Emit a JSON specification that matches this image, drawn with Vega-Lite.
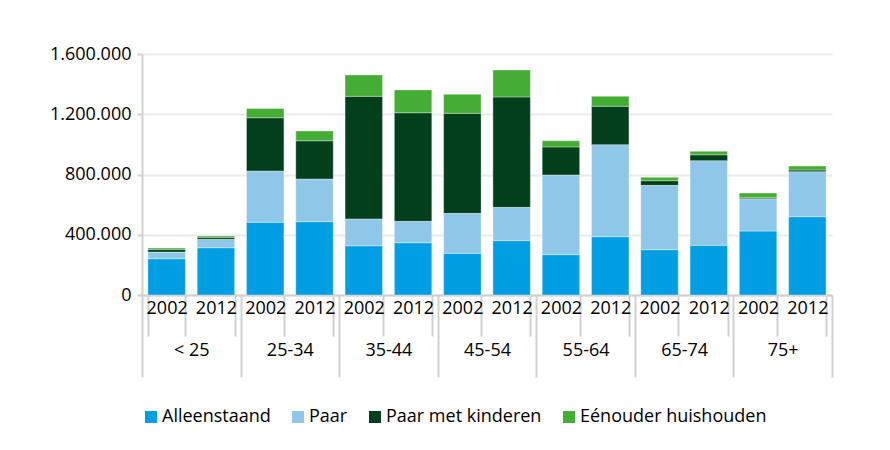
{
  "$schema": "https://vega.github.io/schema/vega-lite/v6.json",
  "width": 690,
  "height": 241,
  "padding": {"left": 49, "top": 45, "right": 10, "bottom": 5},
  "background": "white",
  "config": {
    "font": "Open Sans",
    "view": {"stroke": null},
    "axis": {"labelFont": "Open Sans", "labelFontSize": 18, "labelColor": "#000000"},
    "legend": {"labelFont": "Open Sans", "labelFontSize": 18, "labelColor": "#000000", "labelLimit": 0}
  },
  "data": {
    "values": [
      {"leeftijd": "< 25", "jaar": "2002", "type": "Alleenstaand", "aantal": 241000},
      {"leeftijd": "< 25", "jaar": "2002", "type": "Paar", "aantal": 44000},
      {"leeftijd": "< 25", "jaar": "2002", "type": "Paar met kinderen", "aantal": 18000},
      {"leeftijd": "< 25", "jaar": "2002", "type": "Eénouder huishouden", "aantal": 9000},
      {"leeftijd": "< 25", "jaar": "2012", "type": "Alleenstaand", "aantal": 314000},
      {"leeftijd": "< 25", "jaar": "2012", "type": "Paar", "aantal": 56000},
      {"leeftijd": "< 25", "jaar": "2012", "type": "Paar met kinderen", "aantal": 13000},
      {"leeftijd": "< 25", "jaar": "2012", "type": "Eénouder huishouden", "aantal": 9000},
      {"leeftijd": "25-34", "jaar": "2002", "type": "Alleenstaand", "aantal": 483000},
      {"leeftijd": "25-34", "jaar": "2002", "type": "Paar", "aantal": 340000},
      {"leeftijd": "25-34", "jaar": "2002", "type": "Paar met kinderen", "aantal": 354000},
      {"leeftijd": "25-34", "jaar": "2002", "type": "Eénouder huishouden", "aantal": 62000},
      {"leeftijd": "25-34", "jaar": "2012", "type": "Alleenstaand", "aantal": 487000},
      {"leeftijd": "25-34", "jaar": "2012", "type": "Paar", "aantal": 283000},
      {"leeftijd": "25-34", "jaar": "2012", "type": "Paar met kinderen", "aantal": 254000},
      {"leeftijd": "25-34", "jaar": "2012", "type": "Eénouder huishouden", "aantal": 65000},
      {"leeftijd": "35-44", "jaar": "2002", "type": "Alleenstaand", "aantal": 327000},
      {"leeftijd": "35-44", "jaar": "2002", "type": "Paar", "aantal": 178000},
      {"leeftijd": "35-44", "jaar": "2002", "type": "Paar met kinderen", "aantal": 814000},
      {"leeftijd": "35-44", "jaar": "2002", "type": "Eénouder huishouden", "aantal": 142000},
      {"leeftijd": "35-44", "jaar": "2012", "type": "Alleenstaand", "aantal": 347000},
      {"leeftijd": "35-44", "jaar": "2012", "type": "Paar", "aantal": 142000},
      {"leeftijd": "35-44", "jaar": "2012", "type": "Paar met kinderen", "aantal": 721000},
      {"leeftijd": "35-44", "jaar": "2012", "type": "Eénouder huishouden", "aantal": 151000},
      {"leeftijd": "45-54", "jaar": "2002", "type": "Alleenstaand", "aantal": 277000},
      {"leeftijd": "45-54", "jaar": "2002", "type": "Paar", "aantal": 265000},
      {"leeftijd": "45-54", "jaar": "2002", "type": "Paar met kinderen", "aantal": 664000},
      {"leeftijd": "45-54", "jaar": "2002", "type": "Eénouder huishouden", "aantal": 126000},
      {"leeftijd": "45-54", "jaar": "2012", "type": "Alleenstaand", "aantal": 361000},
      {"leeftijd": "45-54", "jaar": "2012", "type": "Paar", "aantal": 221000},
      {"leeftijd": "45-54", "jaar": "2012", "type": "Paar met kinderen", "aantal": 733000},
      {"leeftijd": "45-54", "jaar": "2012", "type": "Eénouder huishouden", "aantal": 179000},
      {"leeftijd": "55-64", "jaar": "2002", "type": "Alleenstaand", "aantal": 268000},
      {"leeftijd": "55-64", "jaar": "2002", "type": "Paar", "aantal": 529000},
      {"leeftijd": "55-64", "jaar": "2002", "type": "Paar met kinderen", "aantal": 186000},
      {"leeftijd": "55-64", "jaar": "2002", "type": "Eénouder huishouden", "aantal": 41000},
      {"leeftijd": "55-64", "jaar": "2012", "type": "Alleenstaand", "aantal": 387000},
      {"leeftijd": "55-64", "jaar": "2012", "type": "Paar", "aantal": 611000},
      {"leeftijd": "55-64", "jaar": "2012", "type": "Paar met kinderen", "aantal": 255000},
      {"leeftijd": "55-64", "jaar": "2012", "type": "Eénouder huishouden", "aantal": 66000},
      {"leeftijd": "65-74", "jaar": "2002", "type": "Alleenstaand", "aantal": 301000},
      {"leeftijd": "65-74", "jaar": "2002", "type": "Paar", "aantal": 427000},
      {"leeftijd": "65-74", "jaar": "2002", "type": "Paar met kinderen", "aantal": 31000},
      {"leeftijd": "65-74", "jaar": "2002", "type": "Eénouder huishouden", "aantal": 22000},
      {"leeftijd": "65-74", "jaar": "2012", "type": "Alleenstaand", "aantal": 330000},
      {"leeftijd": "65-74", "jaar": "2012", "type": "Paar", "aantal": 562000},
      {"leeftijd": "65-74", "jaar": "2012", "type": "Paar met kinderen", "aantal": 39000},
      {"leeftijd": "65-74", "jaar": "2012", "type": "Eénouder huishouden", "aantal": 23000},
      {"leeftijd": "75+", "jaar": "2002", "type": "Alleenstaand", "aantal": 425000},
      {"leeftijd": "75+", "jaar": "2002", "type": "Paar", "aantal": 214000},
      {"leeftijd": "75+", "jaar": "2002", "type": "Paar met kinderen", "aantal": 7000},
      {"leeftijd": "75+", "jaar": "2002", "type": "Eénouder huishouden", "aantal": 31000},
      {"leeftijd": "75+", "jaar": "2012", "type": "Alleenstaand", "aantal": 520000},
      {"leeftijd": "75+", "jaar": "2012", "type": "Paar", "aantal": 299000},
      {"leeftijd": "75+", "jaar": "2012", "type": "Paar met kinderen", "aantal": 11000},
      {"leeftijd": "75+", "jaar": "2012", "type": "Eénouder huishouden", "aantal": 26000}
    ]
  },
  "transform": [
    {"calculate": "datum.leeftijd + ' ' + datum.jaar", "as": "sleutel"},
    {"calculate": "indexof(['Alleenstaand', 'Paar', 'Paar met kinderen', 'Eénouder huishouden'], datum.type)", "as": "volgorde"}
  ],
  "layer": [
    {
      "mark": {"type": "bar", "stroke": "#ffffff", "strokeWidth": 1, "strokeOpacity": 0.35},
      "encoding": {
        "x": {
          "field": "sleutel", "type": "nominal", "sort": null,
          "scale": {"paddingInner": 0.24, "paddingOuter": 0.12},
          "axis": {
            "title": null, "labelAngle": 0,
            "labelExpr": "slice(datum.label, -4)",
            "tickBand": "extent", "tickSize": 41, "tickColor": "#d0d0d0", "tickWidth": 2,
            "labelPadding": -37, "domainColor": "#d0d0d0", "domainWidth": 2
          }
        },
        "y": {
          "field": "aantal", "type": "quantitative", "stack": "zero",
          "scale": {"domain": [0, 1600000]},
          "axis": {
            "title": null, "values": [0, 400000, 800000, 1200000, 1600000],
            "labelExpr": "replace(replace(format(datum.value, ','), ',', '.'), ',', '.')",
            "gridColor": "#ebebeb", "gridWidth": 2, "domainColor": "#d0d0d0", "domainWidth": 2,
            "tickColor": "#d0d0d0", "tickWidth": 2, "tickSize": 5, "labelPadding": 6
          }
        },
        "order": {"field": "volgorde", "type": "quantitative", "sort": "ascending"},
        "color": {
          "field": "type", "type": "nominal",
          "scale": {
            "domain": ["Alleenstaand", "Paar", "Paar met kinderen", "Eénouder huishouden"],
            "range": ["#009FE3", "#8FC7E8", "#023F1B", "#44AD33"]
          },
          "legend": {
            "title": null, "orient": "bottom", "direction": "horizontal",
            "symbolType": "square", "symbolSize": 144, "symbolStrokeWidth": 0,
            "labelOffset": 2, "columnPadding": 18, "offset": 30
          }
        }
      }
    },
    {
      "mark": {"type": "point", "opacity": 0},
      "encoding": {
        "x": {
          "field": "leeftijd", "type": "nominal", "sort": null,
          "scale": {"paddingInner": 0, "paddingOuter": 0},
          "axis": {
            "orient": "bottom", "title": null, "labelAngle": 0,
            "tickBand": "extent", "tickSize": 82, "tickColor": "#d0d0d0", "tickWidth": 2,
            "labelPadding": -36, "domain": false
          }
        },
        "y": {"datum": 0, "type": "quantitative"}
      }
    }
  ],
  "resolve": {"scale": {"x": "independent"}, "axis": {"x": "independent"}}
}
